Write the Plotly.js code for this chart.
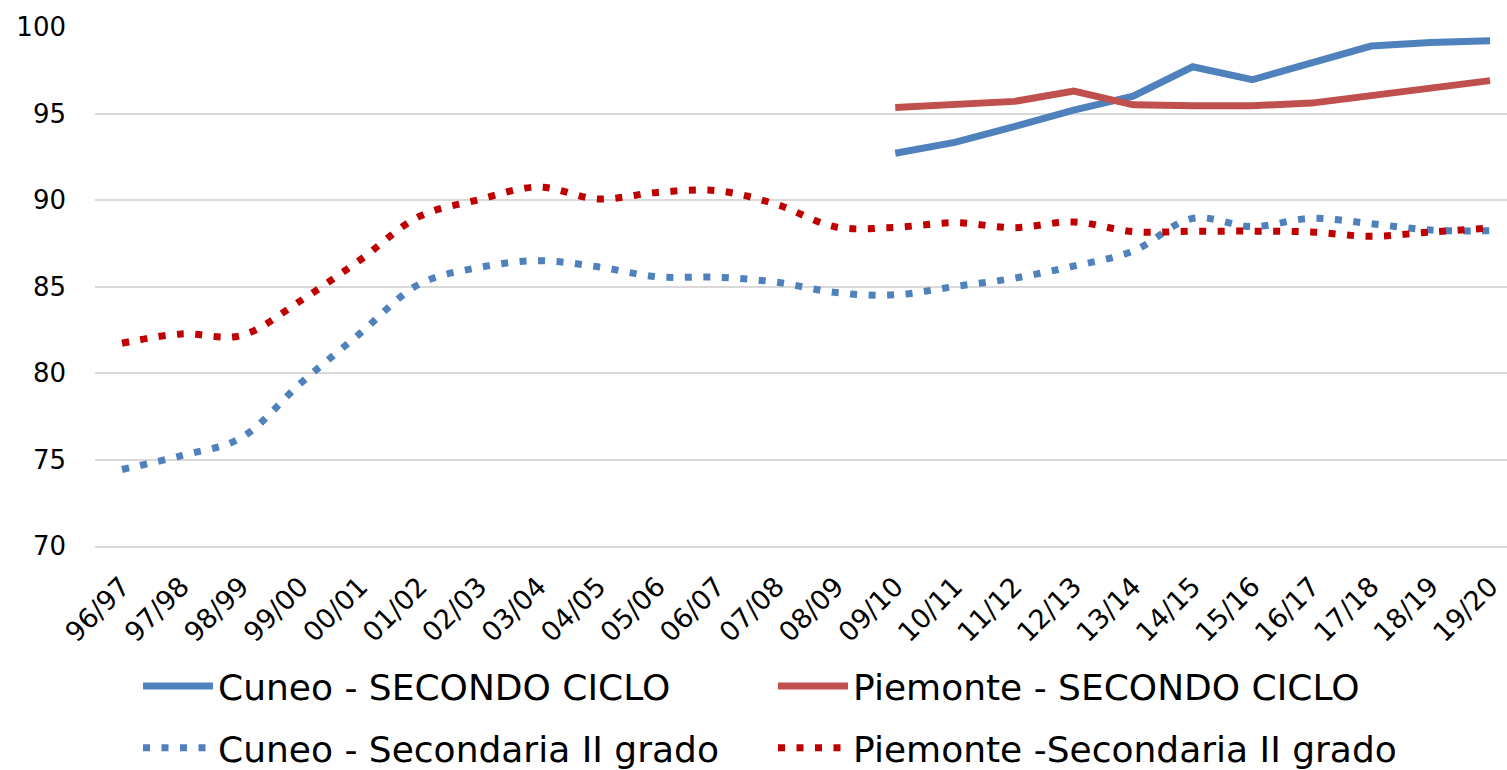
<!DOCTYPE html>
<html>
<head>
<meta charset="utf-8">
<script src="https://cdn.plot.ly/plotly-3.0.1.min.js"></script>
<style>html,body{margin:0;padding:0;background:#fff;}#chart{width:1507px;height:770px;}</style>
</head>
<body>
<div id="chart"></div>
<script>
const years = ["96/97","97/98","98/99","99/00","00/01","01/02","02/03","03/04","04/05","05/06","06/07","07/08","08/09","09/10","10/11","11/12","12/13","13/14","14/15","15/16","16/17","17/18","18/19","19/20"];
const cuneoCiclo = [null,null,null,null,null,null,null,null,null,null,null,null,null,92.7,93.33,94.24,95.2,96.0,97.7,96.95,97.9,98.9,99.1,99.2];
const piemonteCiclo = [null,null,null,null,null,null,null,null,null,null,null,null,null,95.35,95.55,95.7,96.3,95.5,95.45,95.45,95.6,96.0,96.4,96.9];
const cuneoSec = [74.42,75.23,76.25,79.4,82.28,85.14,86.1,86.49,86.14,85.56,85.54,85.25,84.65,84.52,85.0,85.48,86.18,87.05,88.94,88.46,88.94,88.63,88.26,88.22];
const piemonteSec = [81.72,82.26,82.16,84.17,86.53,89.05,90.02,90.75,90.06,90.44,90.54,89.75,88.44,88.42,88.69,88.4,88.73,88.17,88.19,88.2,88.15,87.9,88.15,88.38];

const FONT = "DejaVu Sans, sans-serif";
const traces = [
  {x: years, y: cuneoCiclo, name: "Cuneo - SECONDO CICLO", type: "scatter", mode: "lines",
   line: {color: "#4f81bd", width: 7}, connectgaps: false, legend: "legend", legendgroup: "a", legendrank: 1},
  {x: years, y: piemonteCiclo, name: "Piemonte - SECONDO CICLO", type: "scatter", mode: "lines",
   line: {color: "#c0504d", width: 7}, connectgaps: false, legend: "legend2", legendgroup: "c", legendrank: 1},
  {x: years, y: cuneoSec, name: "Cuneo - Secondaria II grado", type: "scatter", mode: "lines",
   line: {color: "#4f81bd", width: 7, dash: "7px,11.5px", shape: "spline", smoothing: 1}, legend: "legend", legendgroup: "b", legendrank: 2},
  {x: years, y: piemonteSec, name: "Piemonte -Secondaria II grado", type: "scatter", mode: "lines",
   line: {color: "#c00000", width: 7, dash: "7px,11.5px", shape: "spline", smoothing: 1}, legend: "legend2", legendgroup: "d", legendrank: 2}
];
const legendCommon = {
  orientation: "v", yref: "container", y: 0.148, yanchor: "top", xanchor: "left",
  itemwidth: 70, tracegroupgap: 12, traceorder: "grouped",
  font: {family: FONT, size: 36, color: "#000"}, bgcolor: "rgba(0,0,0,0)"
};
const layout = {
  width: 1507, height: 770,
  margin: {l: 95, r: 0, t: 27, b: 224, autoexpand: false},
  paper_bgcolor: "#fff", plot_bgcolor: "#fff",
  font: {family: FONT, color: "#000"},
  showlegend: true,
  xaxis: {type: "category", range: [-0.454, 23.285], tickangle: -45,
          showgrid: false, zeroline: false, showline: true, linecolor: "#d9d9d9", linewidth: 2,
          ticks: "", ticklabelstandoff: 12,
          tickfont: {family: FONT, size: 27, color: "#000"}, automargin: false},
  yaxis: {range: [70, 100], tickvals: [70,75,80,85,90,95,100], showgrid: true,
          gridcolor: "#d9d9d9", gridwidth: 2, zeroline: false, showline: false, ticks: "",
          ticklabelstandoff: 28,
          tickfont: {family: FONT, size: 26, color: "#000"}, automargin: false},
  legend: Object.assign({}, legendCommon, {xref: "container", x: 138 / 1507}),
  legend2: Object.assign({}, legendCommon, {xref: "container", x: 773 / 1507})
};
Plotly.newPlot("chart", traces, layout, {displayModeBar: false, staticPlot: true});
</script>
</body>
</html>
